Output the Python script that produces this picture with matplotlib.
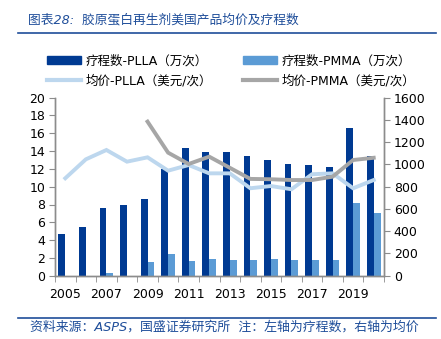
import matplotlib
matplotlib.use("Agg")
import matplotlib.pyplot as plt
from matplotlib.lines import Line2D
from matplotlib.patches import Patch
import numpy as np

plt.rcParams['font.family'] = ['DejaVu Sans', 'Noto Sans CJK SC']

years = list(range(2005, 2021))
year_labels = [str(y) if (y - 2005) % 2 == 0 else "" for y in years]
plla_count = [4.7, 5.5, 7.6, 8.0, 8.6, 12.0, 14.4, 13.9, 13.85, 13.5, 13.0, 12.55, 12.4, 12.2, 16.6, 13.4]
pmma_count = [0, 0, 0.25, 0, 1.5, 2.4, 1.7, 1.85, 1.75, 1.75, 1.85, 1.75, 1.8, 1.75, 8.2, 7.1]
plla_price = [876, 1046, 1130, 1025, 1064, 944, 995, 920, 920, 786, 806, 777, 912, 920, 786, 860]
pmma_price = [None, None, None, None, 1385, 1106, 1004, 1070, 970, 870, 867, 860, 860, 890, 1040, 1060]

C_PLLA = '#003A92'
C_PMMA = '#5B9BD5'
C_PLLA_P = '#BDD7EE'
C_PMMA_P = '#A6A6A6'
C_TITLE = '#1F4E9A'
C_AX = '#8C8C8C'
FAM = ['DejaVu Sans', 'Noto Sans CJK SC']

fig = plt.figure(figsize=(4.41, 3.39), dpi=100)
ax = fig.add_axes([55/441, 1-275.7/339, (384-55)/441, (275.7-97.7)/339])
ax2 = ax.twinx()

x = np.arange(len(years))
w = 0.33
ax.bar(x - w/2, plla_count, width=w, color=C_PLLA, zorder=2)
ax.bar(x + w/2, pmma_count, width=w, color=C_PMMA, zorder=2)

pp = np.array([np.nan if v is None else v for v in plla_price], dtype=float)
pm = np.array([np.nan if v is None else v for v in pmma_price], dtype=float)
ax2.plot(x, pp, color=C_PLLA_P, lw=2.8, solid_joinstyle='miter', zorder=3)
ax2.plot(x, pm, color=C_PMMA_P, lw=2.8, solid_joinstyle='miter', zorder=3)

ax.set_xlim(-0.5, len(years) - 0.5)
ax.set_ylim(0, 20)
ax.set_yticks(range(0, 21, 2))
ax2.set_ylim(0, 1600)
ax2.set_yticks(range(0, 1601, 200))

ax.set_xticks(x)
ax.set_xticklabels(year_labels)
ax.set_xticks(np.arange(-0.5, len(years), 1), minor=True)
ax.tick_params(axis='x', which='major', length=0, pad=9, labelsize=9)
ax.tick_params(axis='x', which='minor', length=4, color=C_AX, direction='out')
ax.tick_params(axis='y', length=4, color=C_AX, labelsize=9, pad=3)
ax2.tick_params(axis='y', length=4, color=C_AX, labelsize=9, pad=3)

for a in (ax, ax2):
    a.spines['top'].set_visible(False)
    for s in ('left', 'right', 'bottom'):
        a.spines[s].set_color(C_AX)
        a.spines[s].set_linewidth(1.0)

# Title and rules
fig.text(28/441, 1-20/339, "图表28:  胶原蛋白再生剂美国产品均价及疗程数", color=C_TITLE,
         fontsize=9.2, style='italic', va='center', ha='left', family=FAM)
fig.add_artist(Line2D([18/441, 436/441], [1-33/339, 1-33/339], color=C_TITLE, lw=1.2))
fig.add_artist(Line2D([18/441, 436/441], [1-318/339, 1-318/339], color=C_TITLE, lw=1.2))
fig.text(30/441, 1-327.5/339, "资料来源：ASPS，国盛证券研究所  注：左轴为疗程数，右轴为均价", color=C_TITLE,
         fontsize=9.3, style='italic', va='center', ha='left', family=FAM)

handles = [Patch(color=C_PLLA), Line2D([], [], color=C_PLLA_P, lw=3),
           Patch(color=C_PMMA), Line2D([], [], color=C_PMMA_P, lw=3)]
labels = ["疗程数-PLLA（万次）", "均价-PLLA（美元/次）", "疗程数-PMMA（万次）", "均价-PMMA（美元/次）"]
leg = fig.legend(handles, labels, ncol=2, loc='upper left', bbox_to_anchor=(36/441, 1-43/339),
                 frameon=False, handlelength=2.7, handleheight=0.6,
                 columnspacing=2.5, labelspacing=0.55, handletextpad=0.35,
                 prop={'family': FAM, 'size': 9.0})

fig.savefig("out.png", dpi=100)
